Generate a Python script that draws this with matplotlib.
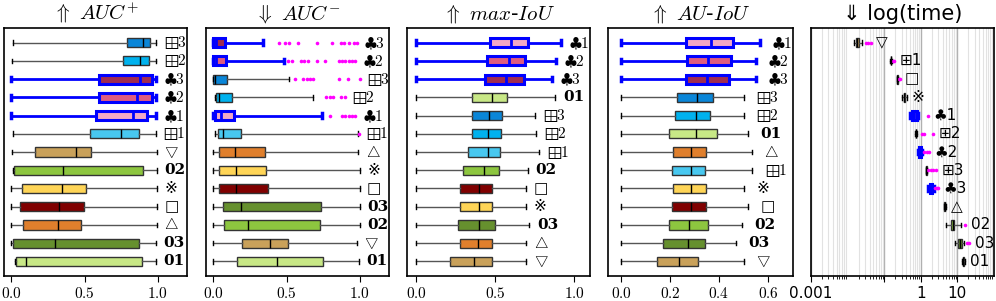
import numpy as np
import matplotlib
matplotlib.use("Agg")
import matplotlib.pyplot as plt
import matplotlib.ticker as mticker

plt.rcParams['mathtext.fontset'] = 'cm'

# colour of every method
COLORS = {"g3": "#0a86d8", "g2": "#00b2ee", "g1": "#48c8f0",
          "c3": "#a02c50", "c2": "#de5c80", "c1": "#f2a8c6",
          "tdn": "#c9a15a", "02": "#8dc63f", "ast": "#ffd557",
          "sq": "#800000", "tup": "#e07f2c", "03": "#66902e", "01": "#c8e886"}

# row labels (serif math for panels 1-4, plain sans for the time panel)
MATH_LABELS = {"g3": r"$\boxplus3$", "g2": r"$\boxplus2$", "g1": r"$\boxplus1$",
               "c3": r"$\clubsuit3$", "c2": r"$\clubsuit2$", "c1": r"$\clubsuit1$",
               "tdn": r"$\bigtriangledown$", "tup": r"$\bigtriangleup$", "sq": "□",
               "ast": "※", "01": "01", "02": "02", "03": "03"}
SANS_LABELS = {"g3": "⊞3", "g2": "⊞2", "g1": "⊞1", "c3": "♣3", "c2": "♣2", "c1": "♣1",
               "tdn": "▽", "tup": "△", "sq": "□", "ast": "※", "01": "01", "02": "02", "03": "03"}

# rows are listed top -> bottom; stats = (whislo, q1, median, q3, whishi)
aucp_rows = ["g3", "g2", "c3", "c2", "c1", "g1", "tdn", "02", "ast", "sq", "tup", "03", "01"]
aucp_stats = [(0.01, 0.79, 0.90, 0.95, 0.99),
              (0.005, 0.76, 0.88, 0.94, 0.99),
              (0.0, 0.60, 0.88, 0.96, 0.99),
              (0.0, 0.60, 0.86, 0.96, 0.99),
              (0.0, 0.575, 0.83, 0.93, 0.99),
              (0.01, 0.54, 0.75, 0.87, 0.985),
              (0.005, 0.165, 0.44, 0.545, 0.995),
              (0.01, 0.018, 0.35, 0.90, 0.995),
              (0.0, 0.073, 0.347, 0.507, 0.995),
              (0.0, 0.06, 0.324, 0.495, 0.995),
              (0.0, 0.08, 0.32, 0.477, 0.995),
              (0.0, 0.014, 0.30, 0.872, 0.99),
              (0.027, 0.032, 0.10, 0.892, 0.99)]
aucp_fliers = {}

aucn_rows = ["c3", "c2", "g3", "g2", "c1", "g1", "tup", "ast", "sq", "03", "02", "tdn", "01"]
aucn_stats = [(0.0, 0.0, 0.02, 0.08, 0.34),
              (0.0, 0.0, 0.02, 0.09, 0.48),
              (0.0, 0.0, 0.01, 0.094, 0.52),
              (0.01, 0.02, 0.036, 0.128, 0.68),
              (0.0, 0.01, 0.05, 0.14, 0.745),
              (0.014, 0.03, 0.064, 0.19, 0.985),
              (0.0, 0.036, 0.146, 0.35, 0.99),
              (0.0, 0.036, 0.155, 0.36, 1.0),
              (0.0, 0.04, 0.158, 0.375, 1.0),
              (0.0, 0.064, 0.19, 0.733, 1.0),
              (0.0, 0.07, 0.238, 0.73, 1.0),
              (0.0, 0.197, 0.386, 0.51, 0.98),
              (0.0, 0.162, 0.436, 0.75, 0.995)]
aucn_fliers = {"c3": [0.45, 0.49, 0.52, 0.58, 0.71, 0.81, 0.87, 0.89, 0.93, 0.96, 0.98],
               "c2": [0.51, 0.54, 0.60, 0.62, 0.65, 0.71, 0.76, 0.86, 0.88, 0.90, 0.93, 0.95, 0.97],
               "g3": [0.56, 0.61, 0.64, 0.66, 0.68, 0.86, 0.92, 1.0],
               "g2": [0.77, 0.80, 0.82, 0.87, 0.90],
               "c1": [0.80, 0.88, 0.90, 0.93, 0.95, 0.97],
               "g1": [0.995]}

maxiou_rows = ["c1", "c2", "c3", "01", "g3", "g2", "g1", "02", "sq", "ast", "03", "tup", "tdn"]
maxiou_stats = [(0.0, 0.465, 0.60, 0.71, 0.915),
                (0.0, 0.448, 0.585, 0.69, 0.884),
                (0.0, 0.434, 0.568, 0.68, 0.86),
                (0.0, 0.354, 0.48, 0.575, 0.88),
                (0.0, 0.354, 0.459, 0.543, 0.754),
                (0.0, 0.354, 0.453, 0.537, 0.76),
                (0.0, 0.328, 0.453, 0.528, 0.78),
                (0.0, 0.297, 0.427, 0.526, 0.705),
                (0.0, 0.28, 0.396, 0.48, 0.695),
                (0.0, 0.28, 0.396, 0.48, 0.695),
                (0.0, 0.265, 0.396, 0.50, 0.716),
                (0.0, 0.28, 0.39, 0.48, 0.695),
                (0.0, 0.217, 0.368, 0.48, 0.695)]
maxiou_fliers = {}

auiou_rows = ["c1", "c2", "c3", "g3", "g2", "01", "tup", "g1", "ast", "sq", "02", "03", "tdn"]
auiou_stats = [(0.0, 0.265, 0.367, 0.458, 0.567),
               (0.0, 0.268, 0.356, 0.449, 0.55),
               (0.0, 0.265, 0.35, 0.442, 0.55),
               (0.0, 0.227, 0.312, 0.377, 0.502),
               (0.0, 0.22, 0.305, 0.363, 0.50),
               (0.0, 0.197, 0.305, 0.393, 0.52),
               (0.0, 0.214, 0.286, 0.347, 0.533),
               (0.0, 0.207, 0.286, 0.343, 0.536),
               (0.0, 0.211, 0.284, 0.346, 0.502),
               (0.0, 0.21, 0.284, 0.346, 0.52),
               (0.0, 0.197, 0.279, 0.356, 0.495),
               (0.0, 0.17, 0.275, 0.343, 0.469),
               (0.0, 0.146, 0.238, 0.313, 0.502)]
auiou_fliers = {}

time_rows = ["tdn", "g1", "sq", "ast", "c1", "g2", "c2", "g3", "c3", "tup", "02", "03", "01"]
time_stats = [(0.015, 0.0172, 0.0185, 0.020, 0.024),
              (0.145, 0.15, 0.152, 0.155, 0.16),
              (0.22, 0.225, 0.23, 0.235, 0.24),
              (0.315, 0.34, 0.355, 0.37, 0.41),
              (0.51, 0.56, 0.65, 0.77, 0.86),
              (0.70, 0.72, 0.73, 0.75, 0.78),
              (0.86, 0.92, 0.97, 1.0, 1.1),
              (1.37, 1.4, 1.42, 1.45, 1.48),
              (1.62, 1.73, 1.88, 2.04, 2.35),
              (4.34, 4.4, 4.55, 4.7, 4.8),
              (4.8, 6.6, 7.4, 8.3, 12.5),
              (8.7, 10.4, 11.5, 13.2, 15.5),
              (13.7, 14.3, 14.6, 15.0, 15.7)]
time_fliers = {"tdn": [0.032, 0.037, 0.043],
               "g1": [0.179, 0.19],
               "sq": [0.25, 0.265],
               "c1": [1.62],
               "g2": [1.06, 1.24, 2.2],
               "c2": [1.24, 1.45, 1.65],
               "g3": [1.62, 1.88, 2.2, 2.6],
               "c3": [2.45, 2.7, 3.0],
               "02": [16.3],
               "03": [18.8, 21.4]}


def draw(ax, rows, stats, fliers, log=False):
    n = len(rows)
    pos = np.arange(n, 0, -1)
    bx = []
    for r, s in zip(rows, stats):
        bx.append(dict(whislo=s[0], q1=s[1], med=s[2], q3=s[3], whishi=s[4],
                       fliers=np.array(fliers.get(r, []), dtype=float)))
    art = ax.bxp(bx, positions=pos, widths=0.5, orientation='horizontal',
                 patch_artist=True, showfliers=True,
                 flierprops=dict(marker='o', markersize=2.6, markerfacecolor='magenta',
                                 markeredgecolor='none', linestyle='none'))
    for i, r in enumerate(rows):
        club = r.startswith("c")
        box = art['boxes'][i]
        box.set_facecolor(COLORS[r])
        box.set_edgecolor('blue' if club else '#333333')
        box.set_linewidth(2.2 if club else 1.0)
        art['medians'][i].set_color('blue' if club else 'black')
        art['medians'][i].set_linewidth(2 if club else 1)
        for w in art['whiskers'][2 * i:2 * i + 2]:
            w.set_color('blue' if club else '#555555')
            w.set_linewidth(2 if club else 1)
        for c in art['caps'][2 * i:2 * i + 2]:
            c.set_color('blue' if club else 'black')
            c.set_linewidth(2.5 if club else 1)
        right = max([stats[i][4]] + list(fliers.get(r, [])))
        if log:
            ax.text(right * 1.4, pos[i], SANS_LABELS[r], va='center', ha='left', fontsize=11)
        elif r[0] == '0':
            ax.text(right + 0.05, pos[i], MATH_LABELS[r], va='center', ha='left',
                    fontsize=11, family='DejaVu Serif', fontweight='bold')
        else:
            ax.text(right + 0.05, pos[i], MATH_LABELS[r], va='center', ha='left', fontsize=11)
    ax.set_ylim(0.2, 13.8)
    ax.set_yticks([])
    for sp in ax.spines.values():
        sp.set_linewidth(1.2)


fig = plt.figure(figsize=(9.96, 3.01), dpi=100)
lefts = [4, 206, 407, 608, 811]
rights = [187, 389, 590, 793, 994]
axs = [fig.add_axes([l / 996, 25 / 301, (r - l) / 996, 248 / 301]) for l, r in zip(lefts, rights)]

draw(axs[0], aucp_rows, aucp_stats, aucp_fliers)
draw(axs[1], aucn_rows, aucn_stats, aucn_fliers)
draw(axs[2], maxiou_rows, maxiou_stats, maxiou_fliers)
draw(axs[3], auiou_rows, auiou_stats, auiou_fliers)
draw(axs[4], time_rows, time_stats, time_fliers, log=True)

axs[0].set_xlim(-0.05, 1.2)
axs[1].set_xlim(-0.05, 1.2)
axs[2].set_xlim(-0.057, 1.1)
axs[3].set_xlim(-0.053, 0.702)
for ax in axs[:3]:
    ax.set_xticks([0.0, 0.5, 1.0])
    ax.set_xticklabels([r"$0.0$", r"$0.5$", r"$1.0$"])
axs[3].set_xticks([0.0, 0.2, 0.4, 0.6])
axs[3].set_xticklabels([r"$0.0$", r"$0.2$", r"$0.4$", r"$0.6$"])

ax = axs[4]
ax.set_xscale('log')
ax.set_xlim(0.001, 100)
ax.set_xticks([0.001, 0.1, 1, 10])
ax.set_xticklabels(["0.001", "", "1", "10"])
ax.xaxis.set_minor_locator(mticker.LogLocator(base=10, subs=np.arange(2, 10), numticks=20))
ax.xaxis.set_minor_formatter(mticker.NullFormatter())
ax.grid(True, which='major', axis='x', color='#b0b0b0', lw=1)
ax.grid(True, which='minor', axis='x', color='#e2e2e2', lw=0.8)
ax.set_axisbelow(True)

for a in axs:
    a.tick_params(axis='x', labelsize=11, length=4)

axs[0].set_title(r"$\Uparrow\ AUC^{+}$", fontsize=15)
axs[1].set_title(r"$\Downarrow\ AUC^{-}$", fontsize=15)
axs[2].set_title(r"$\Uparrow\ max$-$IoU$", fontsize=15)
axs[3].set_title(r"$\Uparrow\ AU$-$IoU$", fontsize=15)
axs[4].set_title("⇓ log(time)", fontsize=15)

fig.savefig("out.png", dpi=100)
